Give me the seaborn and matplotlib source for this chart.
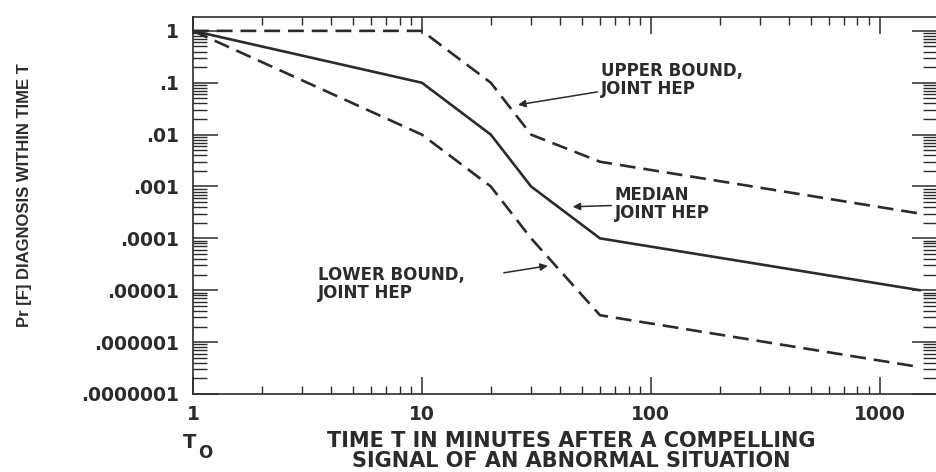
import matplotlib
matplotlib.use("Agg")
import matplotlib.pyplot as plt
import seaborn as sns
import pandas as pd
import numpy as np
from matplotlib.ticker import FixedLocator, LogLocator, NullFormatter

# ---- data ----
time_min = [1, 10, 20, 30, 60, 1500]
median_hep = [1.0, 0.1, 0.01, 0.001, 0.0001, 0.00001]
upper_hep = [1.0, 1.0, 0.1, 0.01, 0.003, 0.0003]
lower_hep = [1.0, 0.01, 0.001, 0.0001, 0.0000033, 0.00000033]

y_ticks = [1e-7, 1e-6, 1e-5, 1e-4, 1e-3, 1e-2, 1e-1, 1]
y_ticklabels = [".0000001", ".000001", ".00001", ".0001", ".001", ".01", ".1", "1"]
x_ticks = [1, 10, 100, 1000]
x_ticklabels = ["1", "10", "100", "1000"]

sns.set_style("ticks")
plt.rcParams['font.family'] = ['DejaVu Sans']

INK = "#2b2b2b"
W, H = 936, 472
fig = plt.figure(figsize=(W / 100, H / 100), dpi=100)
ax = fig.add_axes([193 / W, 1 - 394 / H, (937 - 193) / W, (394 - 17) / H])

df = pd.DataFrame({"T": time_min, "median": median_hep,
                   "upper": upper_hep, "lower": lower_hep})

sns.lineplot(data=df, x="T", y="upper", ax=ax, color=INK, lw=1.9,
             linestyle=(0, (6, 3)), estimator=None, sort=False)
sns.lineplot(data=df, x="T", y="median", ax=ax, color=INK, lw=1.9,
             estimator=None, sort=False)
sns.lineplot(data=df, x="T", y="lower", ax=ax, color=INK, lw=1.9,
             linestyle=(0, (6, 3)), estimator=None, sort=False)

ax.set_xscale("log")
ax.set_yscale("log")
ax.set_xlim(1, 1780)
ax.set_ylim(1e-7, 1.85)

ax.xaxis.set_major_locator(FixedLocator(x_ticks))
ax.set_xticklabels(x_ticklabels)
ax.xaxis.set_minor_locator(LogLocator(base=10, subs=np.arange(2, 10)))
ax.xaxis.set_minor_formatter(NullFormatter())
ax.yaxis.set_major_locator(FixedLocator(y_ticks))
ax.set_yticklabels(y_ticklabels)
ax.yaxis.set_minor_locator(LogLocator(base=10, subs=np.arange(2, 10), numticks=20))
ax.yaxis.set_minor_formatter(NullFormatter())

for s in ax.spines.values():
    s.set_visible(True)
    s.set_linewidth(1.2)
    s.set_color(INK)

ax.tick_params(axis="y", which="major", direction="in", length=18, width=1.1,
               left=True, right=True, pad=10, labelsize=13.5, colors=INK)
ax.tick_params(axis="y", which="minor", direction="in", length=10, width=1.0,
               left=True, right=True, colors=INK)
ax.tick_params(axis="x", which="major", direction="in", length=12, width=1.1,
               bottom=True, top=True, pad=8, labelsize=13.5, colors=INK)
ax.tick_params(axis="x", which="minor", direction="in", length=6, width=1.0,
               bottom=True, top=True, colors=INK)
for lab in ax.get_xticklabels() + ax.get_yticklabels():
    lab.set_fontweight("bold")

ax.set_xlabel("")
ax.set_ylabel("")

fig.text(25 / W, 1 - 195 / H, "Pr [F] DIAGNOSIS WITHIN TIME T", rotation=90,
         ha="center", va="center", fontsize=12, color=INK,
         family=['Liberation Sans Narrow', 'Liberation Sans', 'DejaVu Sans'],
         fontweight="bold")

fig.text(571 / W, 1 - 451 / H,
         "TIME T IN MINUTES AFTER A COMPELLING\nSIGNAL OF AN ABNORMAL SITUATION",
         ha="center", va="center", fontsize=15, fontweight="bold", color=INK,
         linespacing=0.98)

fig.text(190 / W, 1 - 443 / H, "T", ha="center", va="center", fontsize=14,
         fontweight="bold", color=INK)
fig.text(205 / W, 1 - 453 / H, "O", ha="center", va="center", fontsize=12,
         fontweight="bold", color=INK)

ann_kw = dict(fontsize=12, fontweight="bold", color=INK, ha="left",
              va="center", linespacing=1.0)
arrow = dict(arrowstyle="-|>", color=INK, lw=1.1, mutation_scale=11,
             shrinkA=0, shrinkB=0)

ax.annotate("UPPER BOUND,\nJOINT HEP", xy=(26.3, 0.0375), xytext=(60.5, 0.114),
            textcoords="data", arrowprops=arrow, **ann_kw)
ax.annotate("MEDIAN\nJOINT HEP", xy=(45.6, 4.07e-4), xytext=(69.6, 4.6e-4),
            textcoords="data", arrowprops=arrow, **ann_kw)
ax.annotate("", xy=(35.5, 2.96e-5), xytext=(22.8, 2.17e-5),
            textcoords="data", arrowprops=arrow)
ax.text(3.51, 1.33e-5, "LOWER BOUND,\nJOINT HEP", **ann_kw)

fig.savefig("out.png", dpi=100, facecolor="white")
